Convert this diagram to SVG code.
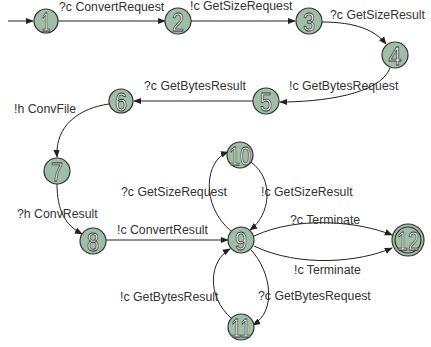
<svg xmlns="http://www.w3.org/2000/svg" width="431" height="347" viewBox="0 0 431 347">
<style>
.n{fill:#9fbea8;stroke:#333;stroke-width:1.2}
.d{font-family:"Liberation Sans",Arial,sans-serif;font-size:26px;fill:#fff;stroke:#333;stroke-width:0.8;text-anchor:middle}
.e{fill:none;stroke:#222;stroke-width:1;marker-end:url(#a)}
.l{font-family:"Liberation Sans",Arial,sans-serif;font-size:12.3px;fill:#333}
</style>
<defs>
<marker id="a" viewBox="0 0 10 10" refX="9" refY="5" markerWidth="8" markerHeight="8" markerUnits="userSpaceOnUse" orient="auto">
<path d="M0,1 L10,5 L0,9 Z" fill="#222"/>
</marker>
</defs>
<g id="edges">
<path class="e" d="M8,21 L33,21"/>
<path class="e" d="M58,21 L165,21"/>
<path class="e" d="M191,21 L295,21"/>
<path class="e" d="M322,22 C355,22 375,30 386,44"/>
<path class="e" d="M390,68 C380,95 320,102 280,102"/>
<path class="e" d="M253,101 L134,101"/>
<path class="e" d="M109,104 C80,108 55,125 57,157"/>
<path class="e" d="M57,184 C57,210 65,225 82,234"/>
<path class="e" d="M106,240 L228,240"/>
<path class="e" d="M231,231 C200,205 205,160 228,152"/>
<path class="e" d="M251,162 C275,180 270,215 250,230"/>
<path class="e" d="M254,236 C300,215 360,222 392,235"/>
<path class="e" d="M254,246 C300,268 360,262 392,248"/>
<path class="e" d="M251,250 C270,270 278,310 253,325"/>
<path class="e" d="M232,319 C205,295 210,260 230,249"/>
<text class="l" x="59" y="11">?c ConvertRequest</text>
<text class="l" x="190" y="10">!c GetSizeRequest</text>
<text class="l" x="330" y="19">?c GetSizeResult</text>
<text class="l" x="289" y="90">!c GetBytesRequest</text>
<text class="l" x="144" y="90">?c GetBytesResult</text>
<text class="l" x="14" y="113">!h ConvFile</text>
<text class="l" x="17" y="218">?h ConvResult</text>
<text class="l" x="117" y="234">!c ConvertResult</text>
<text class="l" x="121" y="196">?c GetSizeRequest</text>
<text class="l" x="261" y="196">!c GetSizeResult</text>
<text class="l" x="290" y="224">?c Terminate</text>
<text class="l" x="294" y="274">!c Terminate</text>
<text class="l" x="258" y="300">?c GetBytesRequest</text>
<text class="l" x="120" y="301">!c GetBytesResult</text>
</g>
<g id="n1"><circle class="n" cx="46" cy="21" r="12"/><text class="d" x="46" y="30.5" textLength="9" lengthAdjust="spacingAndGlyphs">1</text></g>
<g id="n2"><circle class="n" cx="178" cy="21" r="13"/><text class="d" x="178" y="30.5" textLength="12" lengthAdjust="spacingAndGlyphs">2</text></g>
<g id="n3"><circle class="n" cx="309" cy="21" r="13"/><text class="d" x="309" y="30.5" textLength="12" lengthAdjust="spacingAndGlyphs">3</text></g>
<g id="n4"><circle class="n" cx="395" cy="55" r="13"/><text class="d" x="395" y="64.5" textLength="13" lengthAdjust="spacingAndGlyphs">4</text></g>
<g id="n5"><circle class="n" cx="266" cy="101" r="13"/><text class="d" x="266" y="110.5" textLength="12" lengthAdjust="spacingAndGlyphs">5</text></g>
<g id="n6"><circle class="n" cx="121" cy="101" r="12"/><text class="d" x="121" y="110.5" textLength="12" lengthAdjust="spacingAndGlyphs">6</text></g>
<g id="n7"><circle class="n" cx="57" cy="171" r="13"/><text class="d" x="57" y="180.5" textLength="12" lengthAdjust="spacingAndGlyphs">7</text></g>
<g id="n8"><circle class="n" cx="93" cy="241" r="13"/><text class="d" x="93" y="250.5" textLength="12" lengthAdjust="spacingAndGlyphs">8</text></g>
<g id="n9"><circle class="n" cx="241" cy="240" r="13"/><text class="d" x="241" y="249.5" textLength="12" lengthAdjust="spacingAndGlyphs">9</text></g>
<g id="n10"><circle class="n" cx="240" cy="155" r="13"/><text class="d" x="240" y="164.5" textLength="22" lengthAdjust="spacingAndGlyphs">10</text></g>
<g id="n11"><circle class="n" cx="241" cy="327" r="13"/><text class="d" x="241" y="336.5" textLength="20" lengthAdjust="spacingAndGlyphs">11</text></g>
<g id="n12"><circle class="n" cx="408" cy="240" r="16"/><circle class="n" cx="408" cy="240" r="13"/><text class="d" x="408" y="249.5" textLength="22" lengthAdjust="spacingAndGlyphs">12</text></g>
</svg>
